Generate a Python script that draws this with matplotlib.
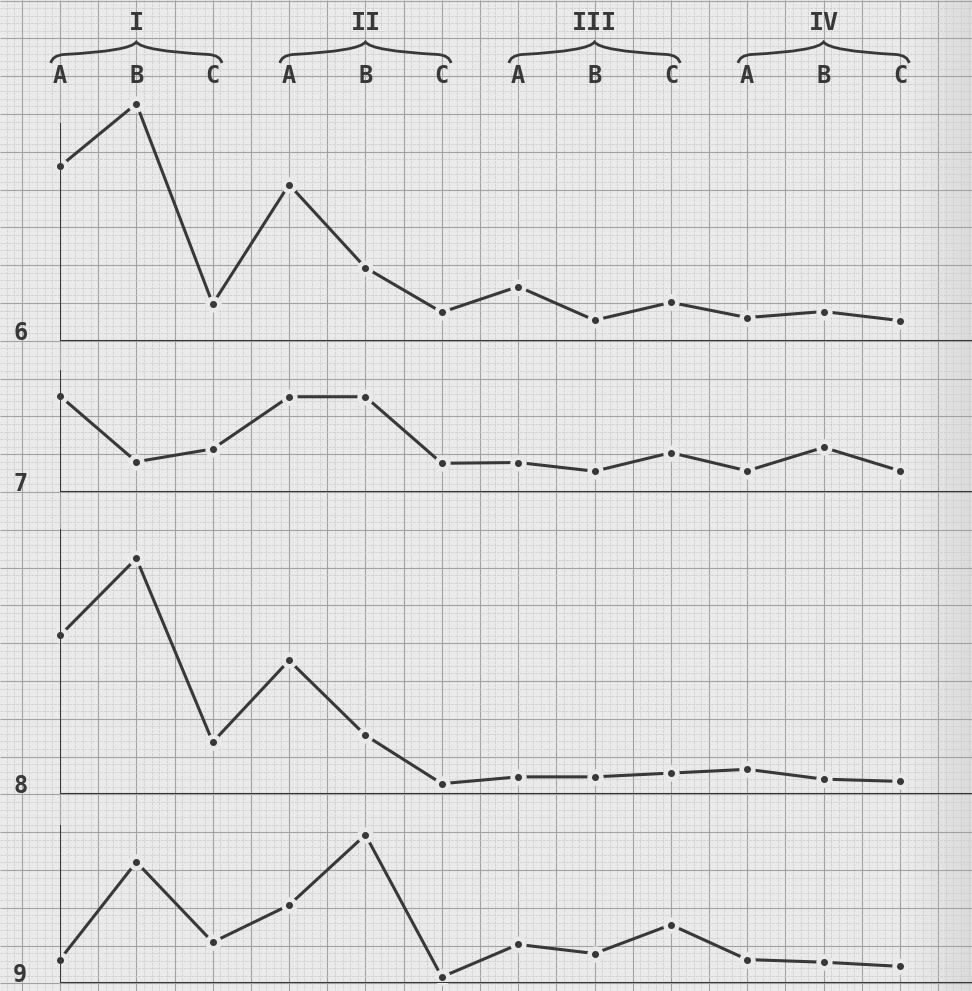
import numpy as np
import matplotlib.pyplot as plt
from matplotlib.path import Path
from matplotlib.patches import PathPatch

# categories
groups = ['I', 'II', 'III', 'IV']
subs = ['A', 'B', 'C']
panel_labels = ['6', '7', '8', '9']

# heights above each panel's baseline, in small grid squares
s6 = [23.1, 31.4, 4.9, 20.7, 9.7, 3.8, 7.2, 2.75, 5.1, 3.1, 3.9, 2.7]
s7 = [12.7, 4.0, 5.7, 12.6, 12.6, 3.8, 3.9, 2.75, 5.2, 2.8, 5.9, 2.8]
s8 = [20.9, 31.1, 6.8, 17.6, 7.7, 1.3, 2.2, 2.2, 2.7, 3.2, 1.9, 1.6]
s9 = [3.1, 16.0, 5.4, 10.3, 19.6, 0.8, 5.1, 3.9, 7.7, 3.1, 2.75, 2.2]
series = [s6, s7, s8, s9]

# layout (pixels)
W, H = 972, 991
X0 = 60          # first category
STEP = 76.36     # px per category
SQ = 7.56        # px per small square (vertical)
# baseline, top of left axis line, top of panel frame
panels = [(341, 123, 92), (492, 370, 355), (793.5, 529, 515), (983, 825, 812)]

paper = '#e9e9e9'
ink = '#383838'
font = 'DejaVu Sans Mono'

fig = plt.figure(figsize=(W / 100, H / 100), dpi=100)

# graph paper background
bg = fig.add_axes([0, 0, 1, 1])
bg.set_xlim(0, W)
bg.set_ylim(H, 0)
bg.axis('off')
xx = np.linspace(0, 1, 300)
shade = 0.915 - 0.06 * np.clip((xx - 0.94) / 0.06, 0, 1)
bg.imshow(np.tile(shade, (2, 1)), cmap='gray', vmin=0, vmax=1,
          extent=[0, W, H, 0], aspect='auto', zorder=0)

k = np.arange(-10, 125)
xs = X0 + STEP / 10 * k
keep = (xs >= 0) & (xs <= W)
bg.vlines(xs[keep & (k % 5 != 0)], 0, H, color='#cacaca', lw=0.5,
          linestyles=(0, (4, 1.5)), zorder=1)
bg.vlines(xs[keep & (k % 5 == 0)], 0, H, color='#a2a2a2', lw=0.8, zorder=1)
k = np.arange(-45, 95)
ys = 303 + SQ * k
keep = (ys >= 0) & (ys <= H)
bg.hlines(ys[keep & (k % 5 != 0)], 0, W, color='#cacaca', lw=0.5,
          linestyles=(0, (4, 1.5)), zorder=1)
bg.hlines(ys[keep & (k % 5 == 0)], 0, W, color='#a2a2a2', lw=0.8, zorder=1)

xmax = (W - X0) / STEP

# header: group numerals, braces and A/B/C
hd = fig.add_axes([X0 / W, 1 - 100 / H, (W - X0) / W, 100 / H])
hd.set_xlim(0, xmax)
hd.set_ylim(100, 0)
hd.axis('off')
for i, g in enumerate(groups):
    c = 3 * i + 1
    hd.text(c, 23, g, ha='center', va='center', fontsize=18,
            family=font, weight='bold', color=ink)
    verts = [(c - 1.12, 63), (c - 1.10, 55.5), (c - 0.95, 54.5),
             (c - 0.08, 51), (c, 42),
             (c + 0.08, 51), (c + 0.95, 54.5),
             (c + 1.10, 55.5), (c + 1.12, 63)]
    codes = [Path.MOVETO, Path.CURVE3, Path.CURVE3, Path.CURVE3, Path.CURVE3,
             Path.CURVE3, Path.CURVE3, Path.CURVE3, Path.CURVE3]
    hd.add_patch(PathPatch(Path(verts, codes), fill=False, ec=ink, lw=2.0,
                           clip_on=False))
for j in range(12):
    hd.text(j, 76, subs[j % 3], ha='center', va='center', fontsize=17,
            family=font, weight='bold', color=ink)

x = np.arange(12)
for (base, atop, ftop), vals, lab in zip(panels, series, panel_labels):
    ax = fig.add_axes([X0 / W, 1 - base / H, (W - X0) / W, (base - ftop) / H])
    ax.set_xlim(0, xmax)
    ax.set_ylim(0, (base - ftop) / SQ)
    ax.axis('off')
    ax.plot(x, vals, color=ink, lw=2.2, marker='o', ms=8.4, mfc=ink,
            mec=paper, mew=3.3, clip_on=False, zorder=2)
    ax.axhline(0, color=ink, lw=1.5, zorder=3)
    ax.vlines(0, 0, (base - atop) / SQ, color=ink, lw=1.5, zorder=3)
    ax.text(-0.52, 1.05, lab, ha='center', va='center', fontsize=17,
            family=font, weight='bold', color=ink)

fig.savefig('out.png', dpi=100)
